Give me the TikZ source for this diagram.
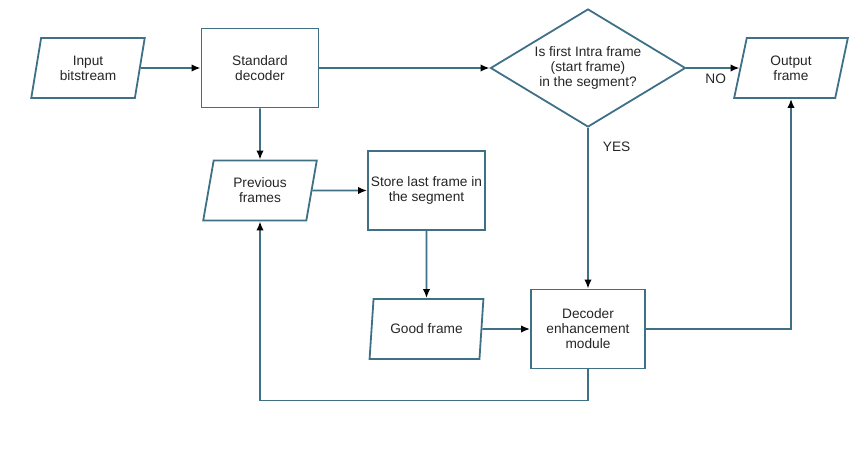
\documentclass[tikz,border=0pt]{standalone}
\usepackage{fontspec}
\setmainfont{Liberation Sans}
\usetikzlibrary{shapes.geometric}
\usetikzlibrary{arrows.meta}

\definecolor{flowline}{RGB}{62,112,134}
\definecolor{flowtext}{RGB}{38,38,38}

\tikzset{
    box/.style={rectangle, draw=flowline, line width=1.8pt, fill=white,
        text=flowtext, align=center, inner sep=2pt,
        minimum width=117pt, minimum height=79pt},
    io/.style={trapezium, trapezium left angle=77, trapezium right angle=103,
        trapezium stretches=true, draw=flowline, line width=1.8pt, fill=white,
        text=flowtext, align=center, inner sep=1pt,
        minimum width=114pt, minimum height=60pt},
    test/.style={diamond, shape aspect=1.65, draw=flowline, line width=1.8pt,
        fill=white, text=flowtext, align=center, inner sep=0pt,
        minimum width=195pt, minimum height=118pt},
    flow/.style={draw=flowline, line width=1.8pt,
        -{Latex[length=9pt,width=7.5pt,color=black]}},
    tag/.style={text=flowtext, inner sep=2pt}
}

\begin{document}
\begin{tikzpicture}[x=1pt,y=-1pt,font=\fontsize{13.7}{15}\selectfont]

        \useasboundingbox (0,0) rectangle (865,463);

        % top row
        \node[io] (input) at (88,68) {Input\\bitstream};
        \node[box] (std) at (260,68) {Standard\\decoder};
        \node[test] (first) at (588,68) {Is first Intra frame\\(start frame)\\in the segment?};
        \node[io] (output) at (791,68) {Output\\frame};

        % middle
        \node[io] (prev) at (260,190.5) {Previous\\frames};
        \node[box] (store) at (426.5,190.5) {Store last frame in\\the segment};

        % bottom
        \node[io] (good) at (426.5,329) {Good frame};
        \node[box, minimum width=114pt] (enh) at (588,329) {Decoder\\enhancement\\module};

        \draw[flow] (input) -- (std);
        \draw[flow] (std) -- (first);
        \draw[flow] (first) -- node[tag, pos=0.55, below=3pt] {NO} (output);
        \draw[flow] (first) -- node[tag, pos=0.12, right=12pt] {YES} (enh);
        \draw[flow] (std) -- (prev);
        \draw[flow] (prev) -- (store);
        \draw[flow] (store) -- (good);
        \draw[flow] (good) -- (enh);
        \draw[flow] (enh.east) -| (output.south);
        \draw[flow] (enh.south) -- ++(0,31) -| (prev.south);

\end{tikzpicture}
\end{document}
